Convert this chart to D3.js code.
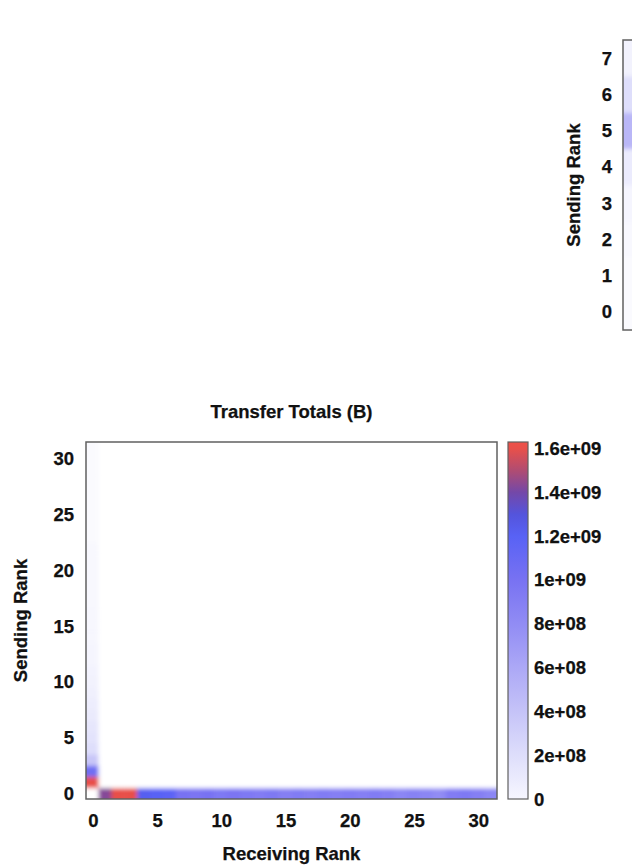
<!DOCTYPE html>
<html>
<head>
<meta charset="utf-8">
<script src="https://cdn.jsdelivr.net/npm/d3@7"></script>
<style>
  body { margin: 0; background: #fff; }
  text { font-family: "Liberation Sans", Arial, sans-serif; font-weight: bold; fill: #111; stroke: #111; stroke-width: 0.25; }
</style>
</head>
<body>
<svg></svg>
<script>
let width = 632, height = 865;

// transfer totals (bytes) for the 32-rank run, everything else is zero
// sender 0 -> receiver 0..31
let row0Totals = [0, 1.43e9, 1.6e9, 1.6e9, 1.22e9, 1.2e9, 1.18e9, 1.0e9,
  0.98e9, 1.0e9, 0.95e9, 0.98e9, 0.95e9, 0.92e9, 0.95e9, 0.9e9,
  0.93e9, 0.9e9, 0.93e9, 0.9e9, 0.92e9, 0.9e9, 0.93e9, 0.9e9,
  0.85e9, 0.88e9, 0.85e9, 0.8e9, 0.92e9, 0.95e9, 0.9e9, 0.85e9];
// sender 0..31 -> receiver 0
let col0Totals = [0, 1.6e9, 1.05e9, 3.8e8, 2.0e8, 1.7e8, 1.5e8, 1.3e8,
  1.1e8, 9e7, 8e7, 7e7, 6e7, 6e7, 5e7, 5e7,
  5e7, 4e7, 4e7, 4e7, 4e7, 4e7, 4e7, 3e7,
  3e7, 3e7, 3e7, 3e7, 3e7, 3e7, 3e7, 3e7];
// the 8-rank panel at top right (only its receiver 0 column is on the page)
let smallRanks = [0, 1, 2, 3, 4, 5, 6, 7];
let smallRecv0 = [3e7, 3e7, 4e7, 6e7, 1.2e8, 5e8, 2e8, 8e7];

let axisTicks = [0, 5, 10, 15, 20, 25, 30];
let cbTicks = [0, 2e8, 4e8, 6e8, 8e8, 1e9, 1.2e9, 1.4e9, 1.6e9];
let cbLabels = ["0", "2e+08", "4e+08", "6e+08", "8e+08", "1e+09", "1.2e+09", "1.4e+09", "1.6e+09"];
let paletteStops = [0, 2e8, 4e8, 6e8, 8e8, 1e9, 1.2e9, 1.3e9, 1.4e9, 1.5e9, 1.6e9, 1.63e9];
let paletteColors = ["#ffffff", "#dedefb", "#c5c3f8", "#aca8f6", "#918cf4", "#7872f2",
  "#5862f5", "#5454dc", "#7448a8", "#b04c72", "#e8504a", "#ee5048"];

let color = d3.scaleLinear().domain(paletteStops).range(paletteColors).clamp(true);

let svg = d3.select("svg").attr("width", width).attr("height", height);
svg.append("rect").attr("width", width).attr("height", height).attr("fill", "#fff");

let defs = svg.append("defs");
defs.append("filter").attr("id", "smooth")
  .attr("x", "-5%").attr("y", "-5%").attr("width", "110%").attr("height", "110%")
  .append("feGaussianBlur").attr("stdDeviation", 2.3);

// value lookup; edges are clamped so the smoothing does not fade at the frame
function cellValue(s, r) {
  if (s === 0) return row0Totals[r];
  if (r === 0) return col0Totals[s];
  return 0;
}

// ---------- main panel ----------
let m = { left: 86, right: 497, top: 442, bottom: 799 };
let x = d3.scaleLinear().domain([-0.5, 31.5]).range([m.left, m.right]);
let y = d3.scaleLinear().domain([-0.5, 31.5]).range([m.bottom, m.top]);
let cw = x(1) - x(0), ch = y(0) - y(1);

defs.append("clipPath").attr("id", "clipMain")
  .append("rect").attr("x", m.left).attr("y", m.top)
  .attr("width", m.right - m.left).attr("height", m.bottom - m.top);

let padded = d3.range(-1, 33);
let cells = [];
padded.forEach(si => padded.forEach(ri => {
  let s = Math.max(0, Math.min(31, si)), r = Math.max(0, Math.min(31, ri));
  cells.push({ si, ri, v: cellValue(s, r) });
}));

svg.append("g").attr("clip-path", "url(#clipMain)")
  .append("g").attr("filter", "url(#smooth)")
  .selectAll("rect").data(cells).enter().append("rect")
  .attr("x", d => x(d.ri - 0.5) - 0.3)
  .attr("y", d => y(d.si + 0.5) - 0.3)
  .attr("width", cw + 0.6).attr("height", ch + 0.6)
  .attr("fill", d => color(d.v));

svg.append("rect").attr("x", m.left).attr("y", m.top)
  .attr("width", m.right - m.left).attr("height", m.bottom - m.top)
  .attr("fill", "none").attr("stroke", "#606060").attr("stroke-width", 1.5);

svg.append("g").selectAll("text").data(axisTicks).enter().append("text")
  .attr("x", d => x(d) + 1).attr("y", 827)
  .attr("text-anchor", "middle").attr("font-size", 18.5)
  .text(d => d);

svg.append("g").selectAll("text").data(axisTicks).enter().append("text")
  .attr("x", 74).attr("y", d => y(d) + 6.5)
  .attr("text-anchor", "end").attr("font-size", 18.5)
  .text(d => d);

svg.append("text").attr("x", (m.left + m.right) / 2).attr("y", 418)
  .attr("text-anchor", "middle").attr("font-size", 18.5)
  .text("Transfer Totals (B)");

svg.append("text").attr("x", (m.left + m.right) / 2).attr("y", 860)
  .attr("text-anchor", "middle").attr("font-size", 18.5)
  .text("Receiving Rank");

svg.append("text").attr("transform", "translate(27," + ((m.top + m.bottom) / 2) + ") rotate(-90)")
  .attr("text-anchor", "middle").attr("font-size", 18.5)
  .text("Sending Rank");

// ---------- colour bar ----------
let cb = { left: 508, right: 528, top: 442, bottom: 799 };
let cy = d3.scaleLinear().domain([0, 1.63e9]).range([cb.bottom, cb.top]);
let grad = defs.append("linearGradient").attr("id", "cbGrad")
  .attr("x1", 0).attr("y1", 1).attr("x2", 0).attr("y2", 0);
grad.selectAll("stop").data(paletteStops).enter().append("stop")
  .attr("offset", d => d / 1.63e9)
  .attr("stop-color", (d, i) => i === 0 ? "#f6f6ff" : color(d));

svg.append("rect").attr("x", cb.left).attr("y", cb.top)
  .attr("width", cb.right - cb.left).attr("height", cb.bottom - cb.top)
  .attr("fill", "url(#cbGrad)").attr("stroke", "#606060").attr("stroke-width", 1.2);

svg.append("g").selectAll("text").data(cbTicks).enter().append("text")
  .attr("x", 534).attr("y", d => cy(d) + 6.5)
  .attr("font-size", 18.5)
  .text((d, i) => cbLabels[i]);

// ---------- top right panel (cut off by the page edge) ----------
let s = { left: 623, right: 1034, top: 40, bottom: 330 };
let sy = d3.scaleLinear().domain([-0.5, 7.5]).range([s.bottom, s.top]);
let sx = d3.scaleLinear().domain([-0.5, 7.5]).range([s.left, s.right]);

defs.append("clipPath").attr("id", "clipSmall")
  .append("rect").attr("x", s.left).attr("y", s.top)
  .attr("width", s.right - s.left).attr("height", s.bottom - s.top);

let smallCells = d3.range(-1, 9).map(i => ({ i, v: smallRecv0[Math.max(0, Math.min(7, i))] }));
svg.append("g").attr("clip-path", "url(#clipSmall)")
  .append("g").attr("filter", "url(#smooth)")
  .selectAll("rect").data(smallCells).enter().append("rect")
  .attr("x", sx(-1.5)).attr("y", d => sy(d.i + 0.5) - 0.3)
  .attr("width", sx(0.5) - sx(-1.5)).attr("height", sy(0) - sy(1) + 0.6)
  .attr("fill", d => color(d.v));

svg.append("rect").attr("x", s.left).attr("y", s.top)
  .attr("width", s.right - s.left).attr("height", s.bottom - s.top)
  .attr("fill", "none").attr("stroke", "#606060").attr("stroke-width", 1.5);

svg.append("g").selectAll("text").data(smallRanks).enter().append("text")
  .attr("x", 612).attr("y", d => sy(d) + 6.5)
  .attr("text-anchor", "end").attr("font-size", 18.5)
  .text(d => d);

svg.append("text").attr("transform", "translate(580," + ((s.top + s.bottom) / 2) + ") rotate(-90)")
  .attr("text-anchor", "middle").attr("font-size", 18.5)
  .text("Sending Rank");
</script>
</body>
</html>
